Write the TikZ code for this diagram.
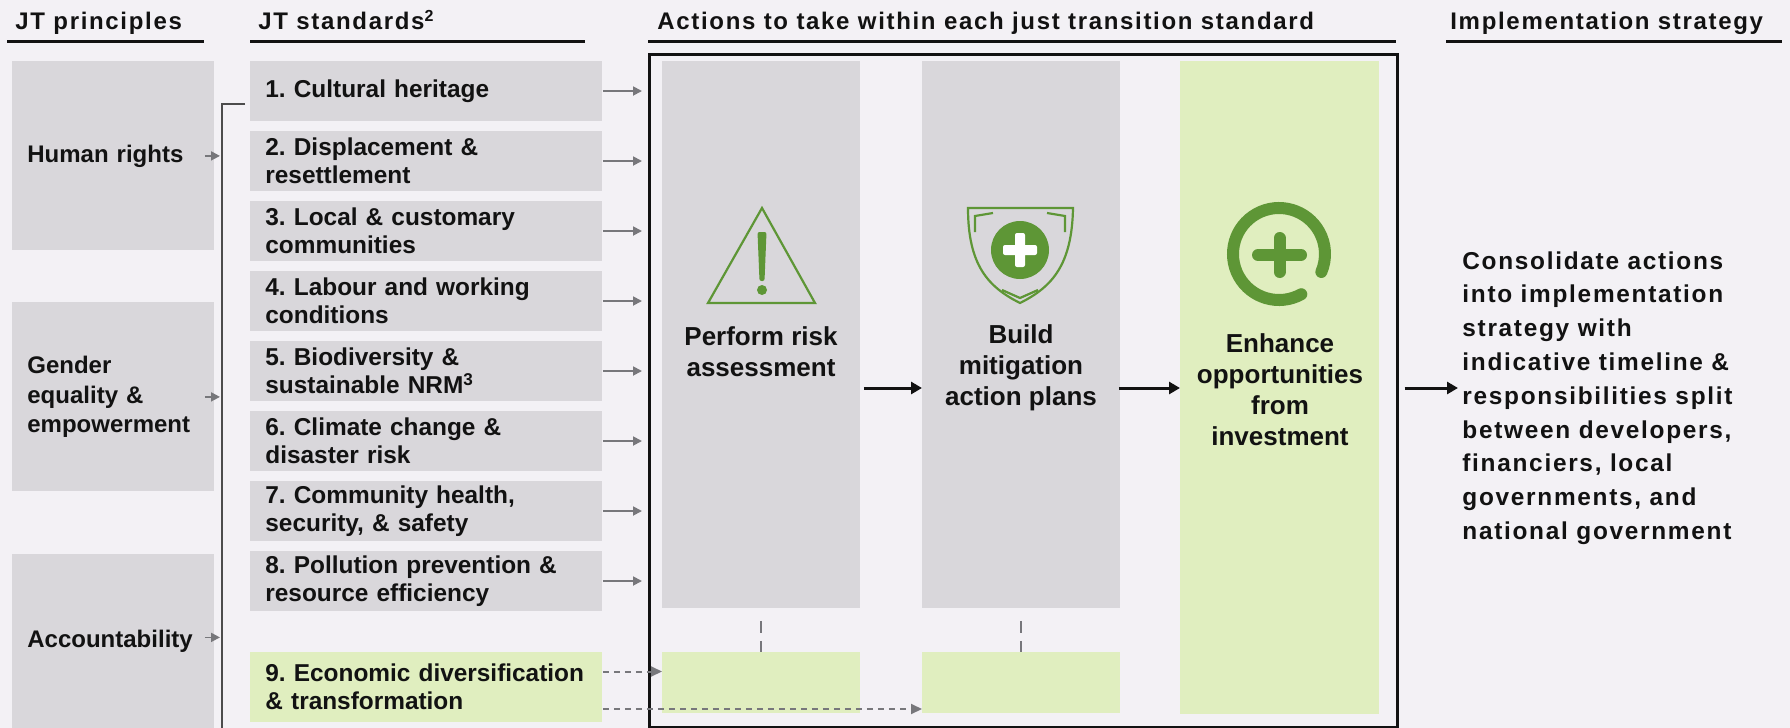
\documentclass[tikz,border=0pt]{standalone}
\usepackage{fontspec}
\setmainfont{Liberation Sans}
\newfontfamily\trackfont[LetterSpace=7]{Liberation Sans}
\usetikzlibrary{arrows.meta, positioning}
\frenchspacing

\definecolor{paper}{HTML}{F3F1F5}
\definecolor{ink}{HTML}{121212}
\definecolor{boxgray}{HTML}{D9D7DB}
\definecolor{boxgreen}{HTML}{E0EEBF}
\definecolor{icongreen}{HTML}{5E9636}
\definecolor{arrowgray}{HTML}{77777B}

\begin{document}
\begin{tikzpicture}[
    x=0.5pt, y=-0.5pt, text=ink,
    head/.style={anchor=base west, inner sep=0pt, font=\trackfont\bfseries\fontsize{12}{14}\selectfont},
    rule/.style={line width=1.5pt, ink},
    principle/.style={fill=boxgray, anchor=north west, minimum width=101pt, text width=86pt,
        inner xsep=7.5pt, inner ysep=0pt, align=left, font=\bfseries\fontsize{12}{14.75}\selectfont},
    standard/.style={fill=boxgray, anchor=west, minimum width=176pt, minimum height=30pt, text width=161pt,
        inner xsep=7.5pt, inner ysep=0pt, align=left, font=\bfseries\fontsize{12.2}{14.25}\selectfont},
    column/.style={fill=boxgray, anchor=north west, minimum width=99pt, inner sep=0pt},
    coltext/.style={align=center, inner sep=0pt, font=\bfseries\fontsize{13}{15.5}\selectfont},
    feed/.style={-{Triangle[length=4.5pt,width=4.5pt]}, line width=0.9pt, arrowgray},
    link/.style={-{Triangle[length=5.5pt,width=5pt]}, line width=1pt, arrowgray, dash pattern=on 3pt off 2.5pt},
    flow/.style={-{Triangle[length=5.5pt,width=6pt]}, line width=1.5pt, ink},
    icon/.style={icongreen, line width=1.1pt}
]
    \path[use as bounding box, fill=paper] (0,0) rectangle (1790,728);

    % Headings
    \node[head] (hprin) at (15,30) {JT principles};
    \node[head] (hstd) at (258,30) {JT standards\textsuperscript{2}};
    \node[head] (hact) at (657,30) {Actions to take within each just transition standard};
    \node[head] (himp) at (1450,30) {Implementation strategy};
    \draw[rule] (7,41) -- (204,41);
    \draw[rule] (250,41) -- (585,41);
    \draw[rule] (648,41) -- (1396,41);
    \draw[rule] (1446,41) -- (1782,41);

    % JT principles
    \node[principle, minimum height=94.5pt] (human) at (12,61) {Human rights};
    \node[principle, minimum height=94.5pt] (gender) at (12,302) {Gender\\equality \&\\empowerment};
    \node[principle, minimum height=87pt] (account) at (12,554) {Accountability};

    % JT standards
    \node[standard] (std1) at (250,91) {1. Cultural heritage};
    \node[standard] (std2) at (250,161) {2. Displacement \&\\resettlement};
    \node[standard] (std3) at (250,231) {3. Local \& customary\\communities};
    \node[standard] (std4) at (250,301) {4. Labour and working\\conditions};
    \node[standard] (std5) at (250,371) {5. Biodiversity \&\\sustainable NRM\textsuperscript{3}};
    \node[standard] (std6) at (250,441) {6. Climate change \&\\disaster risk};
    \node[standard] (std7) at (250,511) {7. Community health,\\security, \& safety};
    \node[standard] (std8) at (250,581) {8. Pollution prevention \&\\resource efficiency};
    \node[standard, fill=boxgreen, minimum height=35pt] (std9) at (250,687) {9. Economic diversification\\\& transformation};

    % Bracket joining the principles to the standards
    \coordinate (brtop) at (222,104);
    \coordinate (brbot) at (222,728);
    \draw[line width=0.75pt, black!70] ([xshift=-2.5pt]std1.west |- brtop) -- (brtop) -- (brbot);

    % Actions frame and columns
    \node[draw=ink, line width=1.25pt, anchor=north west, inner sep=0pt,
          minimum width=374pt, minimum height=336.5pt] (frame) at (648,53) {};
    \node[column, minimum height=273.5pt] (risk) at (662,61) {};
    \node[column, fill=boxgreen, minimum height=30.5pt] (riskeco) at (662,652) {};
    \node[column, minimum height=273.5pt] (build) at (922,61) {};
    \node[column, fill=boxgreen, minimum height=30.5pt] (buildeco) at (922,652) {};
    \node[column, fill=boxgreen, minimum width=99.5pt, minimum height=326.5pt] (enhance) at (1180,61) {};

    \node[coltext] (risktext) at (761,352) {Perform risk\\assessment};
    \node[coltext] (buildtext) at (1021,368) {Build\\mitigation\\action plans};
    \node[coltext] (enhancetext) at (1280,390) {Enhance\\opportunities\\from\\investment};

    \node[anchor=west, align=left, inner sep=0pt,
          font=\trackfont\bfseries\fontsize{12.2}{16.9}\selectfont] (strategy) at (1462,398)
        {Consolidate actions\\into implementation\\strategy with\\indicative timeline \&\\responsibilities split\\between developers,\\financiers, local\\governments, and\\national government};

    % Icons
    \draw[icon, line join=miter] (762,208) -- (815,303) -- (708,303) -- cycle;
    \fill[icongreen, rounded corners=1pt] (757.5,232) -- (766.5,232) -- (764.5,281) -- (759.5,281) -- cycle;
    \fill[icongreen] (762,290) circle[radius=5];

    \draw[icon] (968,208) -- (1073,208) .. controls (1072,265) and (1052,287) .. (1020,303)
        .. controls (988,287) and (968,265) .. cycle;
    \draw[icon] (975,232) -- (975,216) -- (993,213);
    \draw[icon] (1047,213) -- (1065,216) -- (1065,232);
    \draw[icon] (1002,290) -- (1020,298) -- (1038,290);
    \fill[icongreen] (1020,250) circle[radius=29];
    \fill[white, rounded corners=1pt] (1003,245) rectangle (1037,255) (1015,233) rectangle (1025,267);

    \draw[icongreen, line width=6pt, line cap=round] (1279,254) ++(61:46) arc[start angle=61, end angle=383, radius=46];
    \draw[icongreen, line width=6pt, line cap=round] (1258,255) -- (1301,255) (1279.5,238) -- (1279.5,272);

    % Connectors
    \coordinate (flowrow) at (0,388);
    \draw[feed, shorten >=1pt] ([xshift=-5pt]human.east) -- (human.east -| brtop);
    \draw[feed, shorten >=1pt] ([xshift=-5pt]gender.east) -- (gender.east -| brtop);
    \draw[feed, shorten >=1pt] ([xshift=-5pt,yshift=2pt]account.east) -- ([yshift=2pt]account.east -| brtop);
    \path[feed, shorten >=3pt]
            (std1.east) edge (std1.east -| frame.west)
            (std2.east) edge (std2.east -| frame.west)
            (std3.east) edge (std3.east -| frame.west)
            (std4.east) edge (std4.east -| frame.west)
            (std5.east) edge (std5.east -| frame.west)
            (std6.east) edge (std6.east -| frame.west)
            (std7.east) edge (std7.east -| frame.west)
            (std8.east) edge (std8.east -| frame.west);
    \draw[link] ([yshift=7.75pt]std9.east) -- ([yshift=7.75pt]std9.east -| riskeco.west);
    \draw[link] ([yshift=-11pt]std9.east) -- ([yshift=-11pt]std9.east -| buildeco.west);
    \draw[arrowgray, line width=1pt, dash pattern=on 6pt off 4pt, shorten <=6pt] (risk.south) -- (riskeco.north);
    \draw[arrowgray, line width=1pt, dash pattern=on 6pt off 4pt, shorten <=6pt] (build.south) -- (buildeco.north);
    \draw[flow, shorten <=1.5pt] (risk.east |- flowrow) -- (build.west |- flowrow);
    \draw[flow, shorten <=-1pt] (build.east |- flowrow) -- (enhance.west |- flowrow);
    \draw[flow, shorten <=3pt, shorten >=2pt] (frame.east |- flowrow) -- (strategy.west |- flowrow);

\end{tikzpicture}
\end{document}
